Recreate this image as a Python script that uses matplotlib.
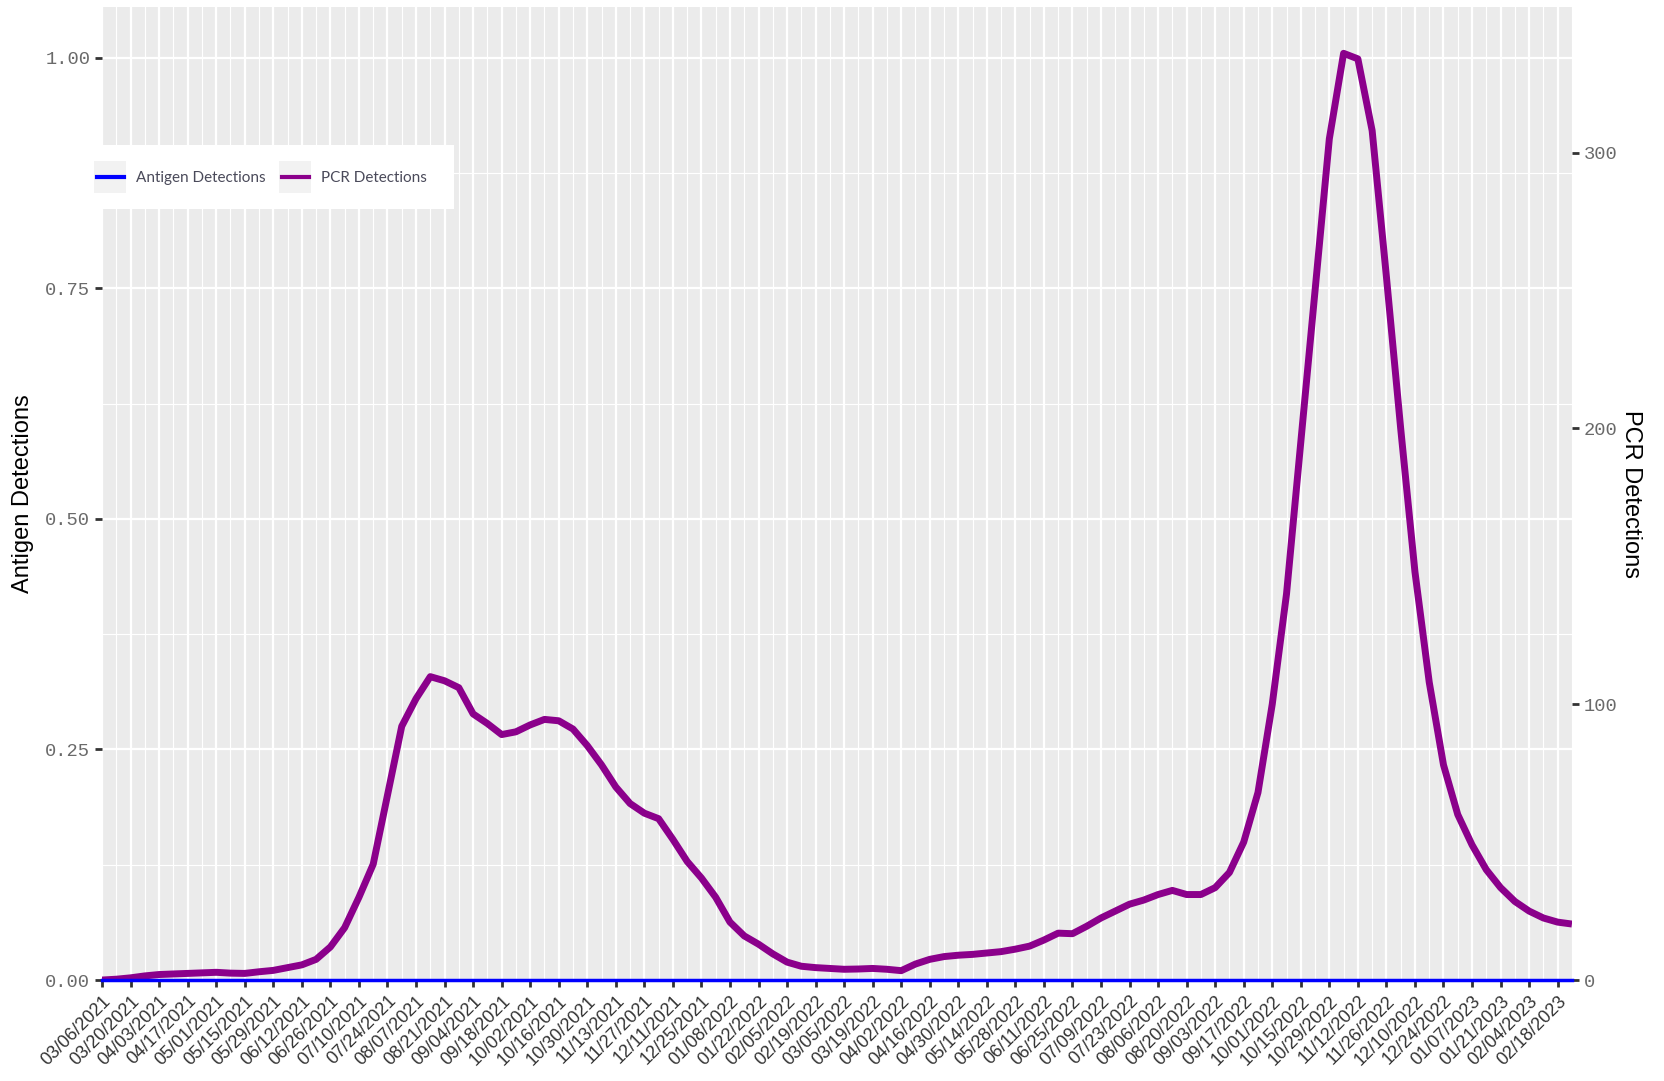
import numpy as np
import pandas as pd
import matplotlib
matplotlib.use("Agg")
import matplotlib.pyplot as plt
from matplotlib.patches import Rectangle
from matplotlib.lines import Line2D

# weekly detections, week ending dates from 03/06/2021
weeks = pd.date_range("2021-03-06", periods=104, freq="7D")
pcr = [0, 0.3, 0.8, 1.5, 2.0, 2.2, 2.4, 2.6, 2.8, 2.5,
       2.4, 3.0, 3.5, 4.5, 5.5, 7.5, 12, 19, 30, 42,
       67, 92, 102, 110, 108.5, 106, 96.5, 93, 89, 90,
       92.5, 94.5, 94, 91, 85, 78, 70, 64, 60.5, 58.5,
       51, 43, 37, 30, 21, 16, 13, 9.5, 6.5, 5,
       4.5, 4.2, 3.9, 4, 4.2, 3.9, 3.4, 5.8, 7.5, 8.5,
       9, 9.3, 9.8, 10.3, 11.2, 12.3, 14.5, 17, 16.8, 19.5,
       22.5, 25, 27.5, 29, 31, 32.5, 31, 31, 33.5, 39,
       50, 68, 100, 140, 195, 250, 305, 336, 334, 308,
       255, 200, 148, 108, 78, 60, 49, 40, 33.5, 28.5,
       25, 22.5, 21, 20.3]
antigen = [0] * 104  # flat at zero all the way

series_names = ["Antigen Detections", "PCR Detections"]
series_colors = ["#0000FF", "#8B008B"]

tick_dates = pd.date_range("2021-03-06", "2023-02-18", freq="14D")
left_ticks = [0.0, 0.25, 0.5, 0.75, 1.0]
right_ticks = [0, 100, 200, 300]

# left unit -> PCR count
scale = 334.4
ytop = 1.055

W, H = 1665, 1081
fig = plt.figure(figsize=(W / 100, H / 100), dpi=100)
ax = fig.add_axes([0.0613, 0.0934, 0.8828, 0.9001])
ax.set_facecolor("#EBEBEB")
for s in ax.spines.values():
    s.set_visible(False)

ax.set_xlim(weeks[0], weeks[-1])
ax.set_ylim(0, ytop)

# grid (major + minor, ggplot look)
ax.set_xticks(tick_dates)
ax.set_xticks(tick_dates + pd.Timedelta(days=7), minor=True)
ax.set_yticks(left_ticks)
ax.set_yticks([0.125, 0.375, 0.625, 0.875], minor=True)
ax.grid(which="major", color="white", linewidth=1.6)
ax.grid(which="minor", color="white", linewidth=0.8)
ax.set_axisbelow(True)

ax.set_xticklabels([d.strftime("%m/%d/%Y") for d in tick_dates], rotation=45,
                   ha="right", va="top", rotation_mode="anchor",
                   fontsize=13, color="#333333", family="Liberation Sans")
ax.set_yticklabels(["%.2f" % v for v in left_ticks], fontsize=13.5,
                   color="#6a6a6a", family="Liberation Mono")
ax.tick_params(axis="both", which="major", length=5, width=2, color="#333333")
ax.tick_params(axis="x", pad=4)
ax.tick_params(which="minor", length=0)
ax.set_ylabel("Antigen Detections", fontsize=17, family="Liberation Sans", labelpad=8)

ax2 = ax.twinx()
for s in ax2.spines.values():
    s.set_visible(False)
ax2.set_ylim(0, ytop * scale)
ax2.set_yticks(right_ticks)
ax2.set_yticklabels([str(v) for v in right_ticks], fontsize=13.5,
                    color="#6a6a6a", family="Liberation Mono")
ax2.tick_params(axis="y", length=5, width=2, color="#333333")
ax2.set_ylabel("PCR Detections", fontsize=17, family="Liberation Sans",
               rotation=-90, labelpad=18)

ax2.plot(weeks, pcr, color=series_colors[1], linewidth=5,
         solid_joinstyle="round", solid_capstyle="butt")
ax2.plot(weeks, np.array(antigen) * scale, color=series_colors[0], linewidth=2.5,
         clip_on=False)

# legend box (ggplot style, drawn in pixel coords of the figure)
def fx(px):
    return px / W

def fy(py):
    return 1 - py / H

fig.patches.append(Rectangle((fx(98), fy(209)), fx(454) - fx(98), fy(145) - fy(209),
                             transform=fig.transFigure, facecolor="white",
                             edgecolor="none", zorder=5))
key_x = [94, 279]
text_x = [136, 321]
for i in range(2):
    fig.patches.append(Rectangle((fx(key_x[i]), fy(193)), 32 / W, 32 / H,
                                 transform=fig.transFigure, facecolor="#F2F2F2",
                                 edgecolor="none", zorder=6))
    fig.lines.append(Line2D([fx(key_x[i] + 3), fx(key_x[i] + 30)], [fy(177), fy(177)],
                            transform=fig.transFigure, color=series_colors[i],
                            linewidth=3, zorder=7))
    fig.text(fx(text_x[i]), fy(178), series_names[i], ha="left", va="center",
             fontsize=11, family="Lato", color="#4a4a5a", zorder=7)

fig.savefig("out.png", dpi=100)
